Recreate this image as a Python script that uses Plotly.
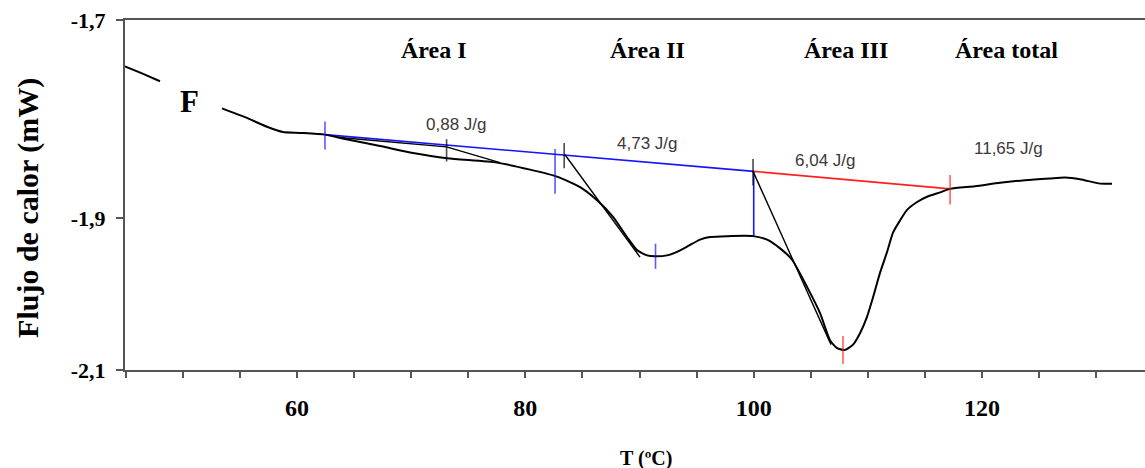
import plotly.graph_objects as go

# ---- DSC curve ----
temp_c = [44.93, 46.42, 48.00, None, 53.43, 55.45, 57.37, 58.77, 60.26, 62.45,
          64.20, 67.27, 70.16, 73.14, 77.52, 80.41, 82.77, 84.79, 86.28, 87.68,
          88.90, 89.78, 90.66, 91.36, 92.41, 93.28, 94.16, 95.30, 96.17, 97.66,
          99.94, 101.17, 102.31, 103.36, 104.67, 105.81, 106.68, 107.30, 108.00, 108.70,
          109.31, 109.93, 110.45, 111.06, 111.68, 112.20, 112.82, 113.43, 114.31, 115.18,
          116.32, 117.20, 119.39, 121.57, 123.76, 125.95, 127.27, 128.58, 130.33, 131.38]
heat_flow_mw = [-1.753, -1.761, -1.770, None, -1.801, -1.811, -1.822, -1.828, -1.829, -1.831,
                -1.836, -1.844, -1.852, -1.858, -1.863, -1.871, -1.879, -1.891, -1.906, -1.925,
                -1.948, -1.963, -1.969, -1.970, -1.969, -1.965, -1.959, -1.951, -1.948, -1.947,
                -1.947, -1.951, -1.961, -1.974, -2.005, -2.035, -2.066, -2.075, -2.077, -2.071,
                -2.058, -2.039, -2.017, -1.989, -1.965, -1.943, -1.929, -1.917, -1.908, -1.902,
                -1.897, -1.893, -1.890, -1.886, -1.883, -1.881, -1.880, -1.882, -1.887, -1.887]

# ---- integration baselines ----
baseline_blue_t = [62.45, 100.0]
baseline_blue_mw = [-1.831, -1.873]
baseline_red_t = [100.0, 117.2]
baseline_red_mw = [-1.873, -1.893]
split_t = [100.0, 100.0]
split_mw = [-1.873, -1.947]

# ---- tangent lines ----
tangent1_t = [63.46, 73.10, 77.78]
tangent1_mw = [-1.834, -1.845, -1.863]
tangent2_t = [83.47, 90.04]
tangent2_mw = [-1.854, -1.971]
tangent3_t = [99.94, 106.77]
tangent3_mw = [-1.873, -2.071]

# ---- cursor marks ----
blue_mark_t = [62.45, 82.60, 91.40]
blue_mark_mw = [-1.832, -1.873, -1.970]
red_mark_t = [107.82, 117.20]
red_mark_mw = [-2.077, -1.894]
black_mark_t = [73.10, 83.40, 99.94]
black_mark_mw = [-1.849, -1.855, -1.874]

# ---- text ----
area_labels = ["Área I", "Área II", "Área III", "Área total"]
enthalpy_labels = ["0,88 J/g", "4,73 J/g", "6,04 J/g", "11,65 J/g"]
x_tick_vals = [45, 50, 55, 60, 65, 70, 75, 80, 85, 90, 95, 100, 105, 110, 115, 120, 125, 130]
x_tick_labels = {60: "60", 80: "80", 100: "100", 120: "120"}
y_tick_vals = [-2.1, -1.9263, -1.7]
y_tick_text = ["-2,1", "-1,9", "-1,7"]

BLUE = "#1414ff"
RED = "#ff1f1f"
AXIS = "#555555"
SERIF = "Liberation Serif"

fig = go.Figure()

fig.add_trace(go.Scatter(x=baseline_blue_t, y=baseline_blue_mw, mode="lines",
                         line=dict(color=BLUE, width=1.6), hoverinfo="skip"))
fig.add_trace(go.Scatter(x=baseline_red_t, y=baseline_red_mw, mode="lines",
                         line=dict(color=RED, width=1.6), hoverinfo="skip"))
fig.add_trace(go.Scatter(x=split_t, y=split_mw, mode="lines",
                         line=dict(color=BLUE, width=1.6), hoverinfo="skip"))
for tx, ty in [(tangent1_t, tangent1_mw), (tangent2_t, tangent2_mw), (tangent3_t, tangent3_mw)]:
    fig.add_trace(go.Scatter(x=tx, y=ty, mode="lines",
                             line=dict(color="black", width=1.4), hoverinfo="skip"))

fig.add_trace(go.Scatter(x=temp_c, y=heat_flow_mw, mode="lines",
                         line=dict(color="black", width=2, shape="spline", smoothing=0.6),
                         connectgaps=False))

fig.add_trace(go.Scatter(x=blue_mark_t, y=blue_mark_mw, mode="markers",
                         marker=dict(symbol="line-ns", size=[20, 32, 18],
                                     line=dict(color=BLUE, width=1.6))))
fig.add_trace(go.Scatter(x=red_mark_t, y=red_mark_mw, mode="markers",
                         marker=dict(symbol="line-ns", size=[20, 21],
                                     line=dict(color=RED, width=1.6))))
fig.add_trace(go.Scatter(x=black_mark_t, y=black_mark_mw, mode="markers",
                         marker=dict(symbol="line-ns", size=[16, 18, 19],
                                     line=dict(color="black", width=1.6))))

# area titles
area_pos = [(72.0, -1.7343), (90.66, -1.7343), (108.09, -1.7343), (122.10, -1.7343)]
for (ax_, ay_), txt in zip(area_pos, area_labels):
    fig.add_annotation(x=ax_, y=ay_, text="<b>" + txt + "</b>", showarrow=False,
                       xanchor="center", yanchor="middle",
                       font=dict(family=SERIF, size=24, color="black"))

# enthalpy values
enth_pos = [(73.93, -1.8189), (90.74, -1.8417), (106.25, -1.8611), (122.28, -1.8463)]
for (ex, ey), txt in zip(enth_pos, enthalpy_labels):
    fig.add_annotation(x=ex, y=ey, text=txt, showarrow=False,
                       xanchor="center", yanchor="middle",
                       font=dict(family="Liberation Sans", size=17, color="#3c3838"))

fig.add_annotation(x=50.54, y=-1.7926, text="<b>F</b>", showarrow=False,
                   xanchor="center", yanchor="middle",
                   font=dict(family=SERIF, size=31, color="black"))

# axis titles
fig.add_annotation(xref="paper", yref="paper", x=-0.0951, y=0.463,
                   text="<b>Flujo de calor (mW)</b>",
                   textangle=-90, showarrow=False, xanchor="center", yanchor="middle",
                   font=dict(family=SERIF, size=30, color="black"))
fig.add_annotation(xref="paper", yref="paper", x=0.5108, y=-0.254, text="<b>T (ºC)</b>",
                   showarrow=False, xanchor="center", yanchor="middle",
                   font=dict(family=SERIF, size=20, color="black"))

fig.update_layout(
    width=1145, height=468,
    margin=dict(l=125, r=0, t=20, b=98),
    paper_bgcolor="white", plot_bgcolor="white",
    showlegend=False,
)
fig.update_xaxes(
    range=[44.935, 134.27], showgrid=False, zeroline=False,
    showline=True, linecolor=AXIS, linewidth=2, mirror=True,
    ticks="outside", ticklen=6, tickwidth=1.5, tickcolor=AXIS,
    tickvals=x_tick_vals,
    ticktext=[("<b>" + x_tick_labels[v] + "</b>") if v in x_tick_labels else "" for v in x_tick_vals],
    tickfont=dict(family=SERIF, size=24, color="black"),
    ticklabelstandoff=9,
)
fig.update_yaxes(
    range=[-2.1, -1.7], showgrid=False, zeroline=False,
    showline=True, linecolor=AXIS, linewidth=2,
    ticks="outside", ticklen=7, tickwidth=1.5, tickcolor=AXIS,
    tickvals=y_tick_vals, ticktext=["<b>" + t + "</b>" for t in y_tick_text],
    tickfont=dict(family=SERIF, size=22, color="black"),
    ticklabelstandoff=6,
)

fig.write_html("out.html")
